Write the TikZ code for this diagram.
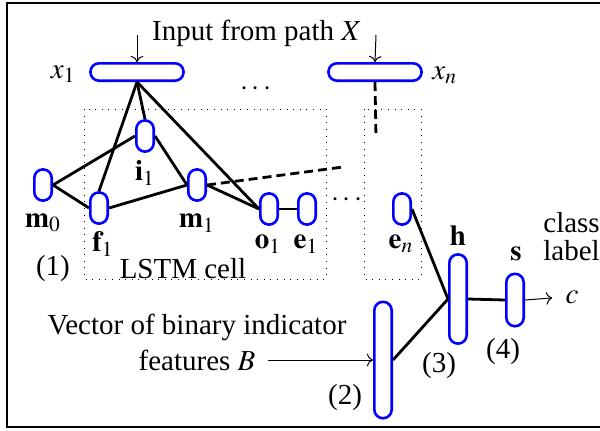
\documentclass[tikz,border=0pt]{standalone}
\usepackage{mathptmx}
\usepackage{fontspec}
\setmainfont{Liberation Serif}
\usetikzlibrary{arrows.meta}
\begin{document}
\begin{tikzpicture}[x=0.5pt,y=-0.5pt,
  every node/.style={font=\fontsize{14.5}{17.5}\selectfont, inner sep=0pt},
  unit/.style={draw=blue, line width=1.3pt, rounded corners=4.3pt, minimum width=8.7pt, minimum height=15.6pt, fill=white},
  wide/.style={unit, minimum width=46.6pt, minimum height=8.7pt},
  conn/.style={line width=1.4pt},
  dconn/.style={line width=1.4pt, dash pattern=on 4.5pt off 2.5pt},
  thinarrow/.style={line width=0.5pt, -{To[length=3pt]}},
  cellbox/.style={line width=0.5pt, dash pattern=on 0.5pt off 2.8pt}]
\useasboundingbox (0,0) rectangle (600,430);
\draw[line width=1.3pt] (600,3) -- (7,3) -- (7,427) -- (600,427);

% dotted cell boxes
\draw[cellbox] (84,109) rectangle (326,279);
\draw[cellbox] (364,109) rectangle (421,279);

% units
\node[wide] (x1) at (137,72) {};
\node[wide] (xn) at (375,72) {};
\node[unit] (i1) at (145,136) {};
\node[unit] (m0) at (43,185) {};
\node[unit] (f1) at (99,208) {};
\node[unit] (m1) at (197,185) {};
\node[unit] (o1) at (269,209) {};
\node[unit] (e1) at (307,209) {};
\node[unit] (en) at (402,209) {};
\node[unit, minimum height=44.6pt] (h) at (458,299) {};
\node[unit, minimum height=26.2pt] (s) at (515,300) {};
\node[unit, minimum height=58.2pt] (b2) at (383,360) {};

% texts
\node (input) at (257,33) {Input from path $X$};
\node[anchor=east] (lx1) at (76,74) {$x_1$};
\node[anchor=west] (lxn) at (432,75) {$x_n$};
\node (li1) at (145,173) {$\mathbf{i}_1$};
\node (lm0) at (43,223) {$\mathbf{m}_0$};
\node (lm1) at (197,223) {$\mathbf{m}_1$};
\node (lf1) at (103,244) {$\mathbf{f}_1$};
\node (lo1) at (268,244) {$\mathbf{o}_1$};
\node (le1) at (306,244) {$\mathbf{e}_1$};
\node (len) at (401,244) {$\mathbf{e}_n$};
\node (lh) at (458,236) {$\mathbf{h}$};
\node (ls) at (516,254) {$\mathbf{s}$};
\node (n1) at (53,269) {(1)};
\node (lstm) at (183,269) {LSTM cell};
\node (n2) at (345,398) {(2)};
\node (n3) at (439,366) {(3)};
\node (n4) at (503,352) {(4)};
\node[anchor=north west, align=left, font=\fontsize{14.5}{14}\selectfont] (cls) at (543,212) {class\\label};
\node (c) at (572,297) {$c$};
\node[anchor=north, align=center, font=\fontsize{14.5}{18}\selectfont] (vec) at (197,314) {Vector of binary indicator\\features $B$};
\node[anchor=base] (d1) at (256,95) {$\cdots$};
\node[anchor=base] (d2) at (347,206) {$\cdots$};

% connectors
\draw[conn] (x1.south) -- (i1.north);
\draw[conn] (x1.south) -- (f1.north);
\draw[conn] (x1.south) -- (o1.west);
\draw[conn] (m0.east) -- (i1.west);
\draw[conn] (m0.east) -- (f1.west);
\draw[conn] (i1.east) -- (m1.west);
\draw[conn] (f1.east) -- (m1.west);
\draw[conn] (m1.east) -- (o1.west);
\draw[conn] (o1.east) -- (e1.west);
\draw[conn] (en.east) -- (h.west);
\draw[conn] (b2.east) -- (h.west);
\draw[conn] (h.east) -- (s.west);
\coordinate (dm1) at (343,167);
\draw[dconn] (m1.east) -- (dm1);
\coordinate (dxn) at (376,137);
\draw[dconn] (xn.south) -- (dxn);

% arrows
\coordinate (inx1) at (137,35);
\coordinate (inxn) at (376,35);
\coordinate (bin) at (268,360);
\draw[thinarrow] (inx1) -- (x1.north);
\draw[thinarrow] (inxn) -- (xn.north);
\draw[thinarrow] (bin) -- (b2.west);
\draw[thinarrow, shorten >=6.5pt] (s.east) -- (c.west);
\end{tikzpicture}
\end{document}
